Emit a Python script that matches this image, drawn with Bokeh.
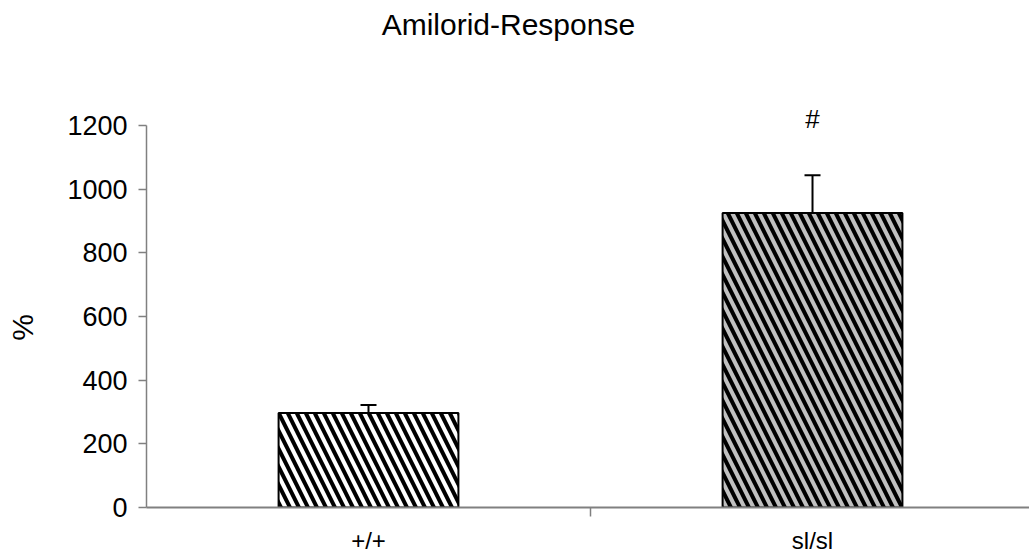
import math
from bokeh.plotting import figure
from bokeh.layouts import row
from bokeh.models import (Range1d, FixedTicker, Whisker, TeeHead, ColumnDataSource, Label)
from bokeh.core.properties import value
from bokeh.embed import file_html
from bokeh.resources import INLINE

# Data
genotypes = ["+/+", "sl/sl"]
response_pct = [297, 925]
sem_pct = [25, 119]
fill_colors = ["white", "#c0c0c0"]
y_ticks = [0, 200, 400, 600, 800, 1000, 1200]
marker_text = ["", "#"]
y_title = "%"
chart_title = "Amilorid-Response"

FONT = "Liberation Sans"
AXIS_GRAY = "#808080"

xs = [i + 0.5 for i in range(len(genotypes))]

# narrow strip on the left holding the y-axis title
side = figure(width=40, height=556, output_backend="svg", toolbar_location=None,
              x_range=Range1d(0, 40), y_range=Range1d(0, 556),
              x_axis_location=None, y_axis_location=None,
              min_border_left=0, min_border_right=0, min_border_top=0,
              min_border_bottom=0)
side.outline_line_color = None
side.grid.visible = False
side.text(x=[22], y=[183], text=[y_title], angle=math.pi / 2,
          text_font=value(FONT), text_font_size="30px",
          text_align="left", text_baseline="middle", text_color="black")

p = figure(width=989, height=556, output_backend="svg", toolbar_location=None,
           x_range=Range1d(0, 1.9887), y_range=Range1d(0, 1592.7),
           min_border_left=106, min_border_right=0, min_border_top=0,
           min_border_bottom=49)
p.outline_line_color = None
p.grid.visible = False
p.background_fill_color = "white"
p.border_fill_color = "white"

src = ColumnDataSource(dict(x=xs, top=response_pct, fill=fill_colors,
                            upper=[v + e for v, e in zip(response_pct, sem_pct)],
                            mark=marker_text))

p.vbar(x="x", top="top", width=0.405, source=src, fill_color="fill",
       line_color="black", line_width=2,
       hatch_pattern="\\", hatch_color="black", hatch_weight=4, hatch_scale=18)

whisk = Whisker(base="x", lower="top", upper="upper", source=src,
                line_color="black", line_width=2,
                upper_head=TeeHead(size=16, line_color="black", line_width=2),
                lower_head=None)
p.add_layout(whisk)

# significance marker above the mutant bar
p.text(x="x", y=1222, text="mark", source=src, text_font=value(FONT),
       text_font_size="26px", text_align="center", text_baseline="middle",
       text_color="black")

# y axis
ya = p.yaxis[0]
ya.ticker = FixedTicker(ticks=y_ticks)
ya.bounds = (0, 1200)
ya.axis_line_color = AXIS_GRAY
ya.axis_line_width = 1.5
ya.major_tick_line_color = AXIS_GRAY
ya.major_tick_line_width = 1.5
ya.major_tick_out = 8
ya.major_tick_in = 0
ya.minor_tick_line_color = None
ya.major_label_text_font = FONT
ya.major_label_text_font_size = "27px"
ya.major_label_text_color = "black"
ya.major_label_standoff = 11

# x axis: labels at category centres, tick between categories
xa = p.xaxis[0]
xa.ticker = FixedTicker(ticks=xs, minor_ticks=[1.0])
xa.major_label_overrides = {x: g for x, g in zip(xs, genotypes)}
xa.axis_line_color = AXIS_GRAY
xa.axis_line_width = 2
xa.major_tick_line_color = None
xa.major_tick_out = 0
xa.major_tick_in = 0
xa.minor_tick_line_color = AXIS_GRAY
xa.minor_tick_line_width = 1.5
xa.minor_tick_out = 9
xa.minor_tick_in = 0
xa.major_label_text_font = FONT
xa.major_label_text_font_size = "24px"
xa.major_label_text_color = "black"
xa.major_label_standoff = 10

# chart title
p.add_layout(Label(x=0.815, y=1516, text=chart_title, text_font=FONT,
                   text_font_size="30px", text_align="center",
                   text_baseline="alphabetic", text_color="black"))

layout = row(side, p, spacing=0)
open("out.html", "w").write(file_html(layout, INLINE))
